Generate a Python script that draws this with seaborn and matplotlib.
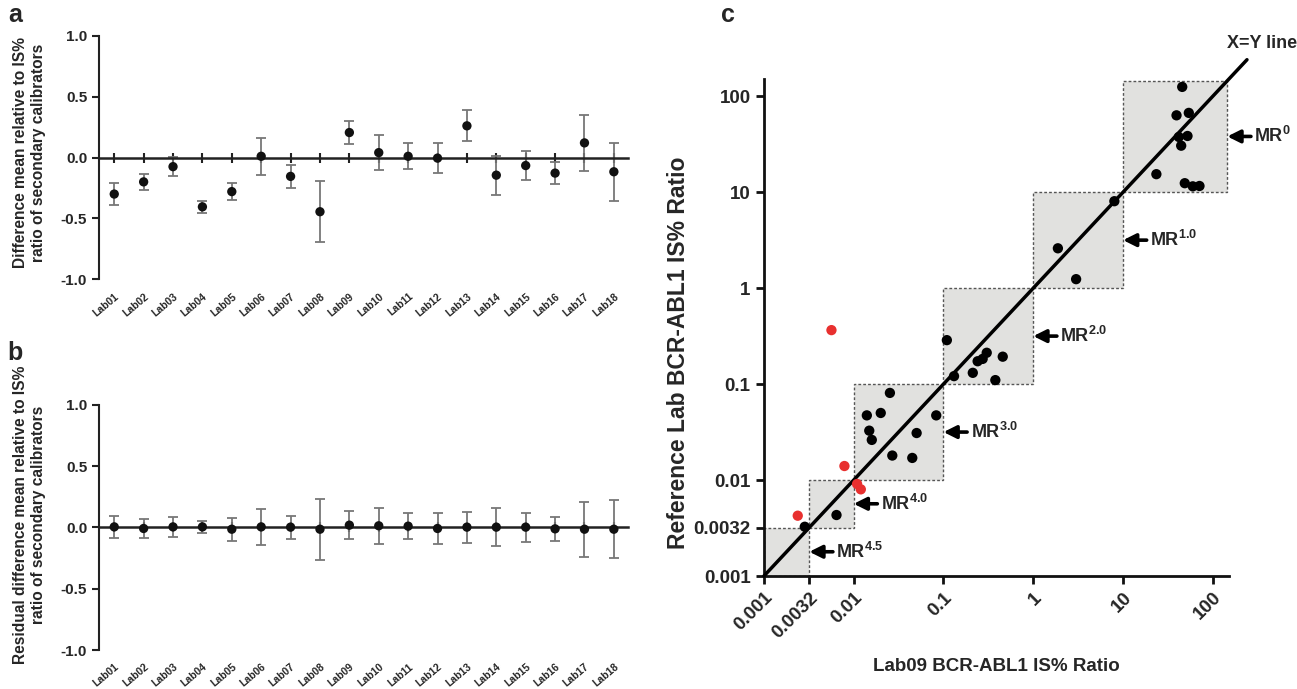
import matplotlib
matplotlib.use('Agg')
import matplotlib.pyplot as plt
from matplotlib.patches import Rectangle
import seaborn as sns
import pandas as pd

# panels a / b
labs = ['Lab%02d' % i for i in range(1, 19)]
diff_mean = [-0.30, -0.20, -0.075, -0.405, -0.28, 0.01, -0.155, -0.445, 0.205,
             0.04, 0.01, -0.005, 0.26, -0.145, -0.066, -0.128, 0.12, -0.117]
diff_err = [0.09, 0.065, 0.08, 0.048, 0.07, 0.152, 0.093, 0.25, 0.095,
            0.145, 0.105, 0.125, 0.127, 0.16, 0.118, 0.09, 0.23, 0.237]
resid_mean = [0.005, -0.008, 0.005, 0.005, -0.014, 0.005, 0.003, -0.014, 0.019,
              0.014, 0.011, -0.008, 0.003, 0.003, 0.003, -0.011, -0.014, -0.014]
resid_err = [0.091, 0.075, 0.08, 0.048, 0.094, 0.15, 0.093, 0.25, 0.114,
             0.146, 0.106, 0.124, 0.127, 0.157, 0.118, 0.1, 0.225, 0.238]
ab_ticks = [-1.0, -0.5, 0.0, 0.5, 1.0]

# panel c
black_x = [45.6, 39.4, 54, 41.8, 52.2, 44.4, 23.5, 48.7, 59.8, 71,
           8.0, 1.88, 3.0,
           0.109, 0.131, 0.212, 0.24, 0.273, 0.303, 0.378, 0.457,
           0.0253, 0.014, 0.02, 0.083, 0.0149, 0.0159, 0.0502, 0.0269, 0.0449,
           0.00643, 0.00285]
black_y = [125, 63.2, 67, 37.6, 38.5, 30.5, 15.4, 12.4, 11.5, 11.6,
           8.05, 2.6, 1.24,
           0.287, 0.121, 0.131, 0.173, 0.183, 0.212, 0.110, 0.193,
           0.0809, 0.0472, 0.05, 0.0472, 0.0327, 0.0262, 0.0309, 0.018, 0.017,
           0.00432, 0.00326]
red_x = [0.00565, 0.00788, 0.0109, 0.012, 0.00238]
red_y = [0.365, 0.014, 0.0091, 0.0080, 0.00425]
mr_edges = [0.001, 0.0032, 0.01, 0.1, 1, 10, 145]
mr_labels = ['MR$^{4.5}$', 'MR$^{4.0}$', 'MR$^{3.0}$', 'MR$^{2.0}$', 'MR$^{1.0}$', 'MR$^{0}$']
c_ticks = [0.001, 0.0032, 0.01, 0.1, 1, 10, 100]
c_tick_labels = ['0.001', '0.0032', '0.01', '0.1', '1', '10', '100']
xy_line = [0.001, 240]

sns.set_theme(style='ticks')
plt.rcParams['font.family'] = ['Liberation Sans', 'DejaVu Sans']
plt.rcParams['font.weight'] = 'bold'
plt.rcParams['axes.labelweight'] = 'bold'
plt.rcParams['mathtext.fontset'] = 'custom'
plt.rcParams['mathtext.rm'] = 'Liberation Sans:bold'
plt.rcParams['mathtext.it'] = 'Liberation Sans:bold'
plt.rcParams['mathtext.bf'] = 'Liberation Sans:bold'

fig = plt.figure(figsize=(12.97, 6.89), dpi=100)
ax_a = fig.add_axes([0.0763, 0.5946, 0.4081, 0.3536])
ax_b = fig.add_axes([0.0763, 0.0566, 0.4081, 0.3556])
ax_c = fig.add_axes([0.589, 0.164, 0.3585, 0.7213])


def lab_panel(ax, mean, err, ylabel, label_y):
    df = pd.DataFrame({'lab': labs, 'value': mean})
    ax.errorbar(labs, mean, yerr=err, fmt='none', ecolor='#777777',
                elinewidth=1.3, capsize=3.5, capthick=1.3, zorder=2)
    sns.scatterplot(data=df, x='lab', y='value', ax=ax, color='#111111',
                    s=45, edgecolor='none', zorder=3)
    ax.set_xlim(-0.52, 17.49)
    ax.set_ylim(-1, 1)
    ax.set_yticks(ab_ticks, ['%.1f' % t for t in ab_ticks])
    for s in ['top', 'right']:
        ax.spines[s].set_visible(False)
    ax.spines['bottom'].set_position(('data', 0))
    ax.spines['bottom'].set_linewidth(1.8)
    ax.spines['bottom'].set_color('#222222')
    ax.spines['left'].set_linewidth(1.5)
    ax.spines['left'].set_color('#222222')
    h_pt = ax.get_position().height * fig.get_figheight() * 72
    ax.tick_params(axis='x', direction='inout', length=7, width=1.5,
                   pad=h_pt / 2 + 5, labelsize=7.5, color='#222222')
    ax.tick_params(axis='y', direction='out', length=5, width=1.5,
                   labelsize=11, color='#222222')
    plt.setp(ax.get_xticklabels(), rotation=40, ha='right', va='top',
             rotation_mode='anchor')
    ax.set_xlabel('')
    ax.set_ylabel(ylabel, fontsize=11.2, linespacing=1.2)
    ax.yaxis.set_label_coords(-0.101, label_y)


lab_panel(ax_a, diff_mean, diff_err,
          'Difference mean relative to IS%\nratio of secondary calibrators', 0.52)
lab_panel(ax_b, resid_mean, resid_err,
          'Residual difference mean relative to IS%\nratio of secondary calibrators', 0.55)

# panel c
ax_c.set_xscale('log')
ax_c.set_yscale('log')
for i in range(len(mr_edges) - 1):
    e0, e1 = mr_edges[i], mr_edges[i + 1]
    ax_c.add_patch(Rectangle((e0, e0), e1 - e0, e1 - e0, facecolor='#e1e1df',
                             edgecolor='#555555', linestyle=(0, (2, 1.5)),
                             linewidth=1, zorder=1))
    mid = (e0 * e1) ** 0.5
    ax_c.annotate('', xy=(e1, mid), xytext=(17, 0), textcoords='offset points',
                  arrowprops=dict(arrowstyle='-|>', color='black', lw=2.6,
                                  mutation_scale=19, shrinkA=0, shrinkB=0),
                  annotation_clip=False)
    ax_c.annotate(mr_labels[i], xy=(e1, mid), xytext=(19.5, 0),
                  textcoords='offset points', ha='left', va='center',
                  fontsize=13, fontweight='bold', annotation_clip=False)

ax_c.plot(xy_line, xy_line, color='black', lw=2.5, clip_on=False, zorder=3)
sns.scatterplot(x=black_x, y=black_y, ax=ax_c, color='black', s=55,
                edgecolor='none', zorder=4, clip_on=False)
sns.scatterplot(x=red_x, y=red_y, ax=ax_c, color='#e8302f', s=55,
                edgecolor='none', zorder=4, clip_on=False)
ax_c.set_xlim(0.001, 151)
ax_c.set_ylim(0.001, 151)
ax_c.set_xticks(c_ticks, c_tick_labels)
ax_c.set_yticks(c_ticks, c_tick_labels)
ax_c.minorticks_off()
for s in ['top', 'right']:
    ax_c.spines[s].set_visible(False)
for s in ['left', 'bottom']:
    ax_c.spines[s].set_linewidth(2)
    ax_c.spines[s].set_color('#111111')
ax_c.tick_params(direction='out', length=6, width=2, labelsize=13.5,
                 color='#111111')
plt.setp(ax_c.get_xticklabels(), rotation=45, ha='right', va='top',
         rotation_mode='anchor')
ax_c.set_xlabel('Lab09 BCR-ABL1 IS% Ratio', fontsize=13.5, labelpad=12)
ax_c.set_ylabel('Reference Lab BCR-ABL1 IS% Ratio', fontsize=16.5)
ax_c.yaxis.set_label_coords(-0.159, 0.45)

fig.text(1227 / 1297, 1 - 44 / 689, 'X=Y line', fontsize=13,
         fontweight='bold', ha='left', va='center')
fig.text(0.006, 0.995, 'a', fontsize=18, fontweight='bold', va='top')
fig.text(0.006, 0.505, 'b', fontsize=18, fontweight='bold', va='top')
fig.text(0.556, 0.995, 'c', fontsize=18, fontweight='bold', va='top')

fig.savefig('out.png', dpi=100)
